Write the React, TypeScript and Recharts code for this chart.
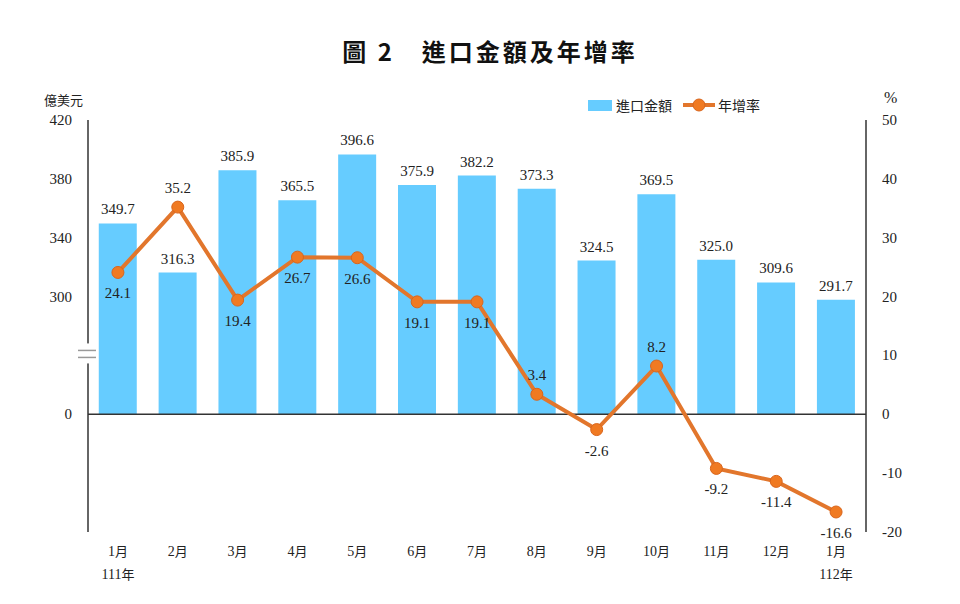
import { ComposedChart, Bar, Line, XAxis, YAxis, LabelList, ReferenceLine } from "recharts";

const months = ["1月", "2月", "3月", "4月", "5月", "6月", "7月", "8月", "9月", "10月", "11月", "12月", "1月"];
const yearLabels = ["111年", "", "", "", "", "", "", "", "", "", "", "", "112年"];
const importAmount = [349.7, 316.3, 385.9, 365.5, 396.6, 375.9, 382.2, 373.3, 324.5, 369.5, 325.0, 309.6, 291.7];
const growthRate = [24.1, 35.2, 19.4, 26.7, 26.6, 19.1, 19.1, 3.4, -2.6, 8.2, -9.2, -11.4, -16.6];
const rateLabelAbove = [false, true, false, false, false, false, false, true, false, true, false, false, false];

// left axis is broken: 300..420 maps onto 20..50 of the % axis, 0 maps onto 0
const leftTicks = [420, 380, 340, 300, 0];
const rightTicks = [50, 40, 30, 20, 10, 0, -10, -20];
const toRight = (v: number) => (v >= 300 ? 20 + (v - 300) / 4 : (v * 20) / 300);

const data = months.map((m, i) => ({
  month: m,
  year: yearLabels[i],
  amount: importAmount[i],
  bar: toRight(importAmount[i]),
  rate: growthRate[i],
}));

const serif = "'Liberation Serif', 'Times New Roman', serif";
const cjk = "'Noto Sans CJK TC', sans-serif";

const MonthTick = (props: any) => {
  const { x, y, payload } = props;
  const d = data[payload.index];
  return (
    <g>
      <text x={x} y={y + 16} textAnchor="middle" fontSize={14} fill="#222">
        <tspan fontFamily={serif}>{d.month.replace("月", "")}</tspan>
        <tspan fontFamily={cjk} fontSize={13}>月</tspan>
      </text>
      {d.year && (
        <text x={x} y={y + 39} textAnchor="middle" fontSize={14} fill="#222">
          <tspan fontFamily={serif}>{d.year.replace("年", "")}</tspan>
          <tspan fontFamily={cjk} fontSize={13}>年</tspan>
        </text>
      )}
    </g>
  );
};

const LeftTick = (props: any) => {
  const { x, y, payload } = props;
  if (payload.value === 10) {
    return (
      <g>
        <rect x={x + 12} y={y - 12} width={8} height={20} fill="#fff" />
        <line x1={x + 6} x2={x + 24} y1={y - 5} y2={y - 5} stroke="#999" strokeWidth={1.5} />
        <line x1={x + 6} x2={x + 24} y1={y + 2} y2={y + 2} stroke="#999" strokeWidth={1.5} />
      </g>
    );
  }
  const idx = [50, 40, 30, 20, 0].indexOf(payload.value);
  return (
    <text x={x} y={y + 5} textAnchor="end" fontFamily={serif} fontSize={15} fill="#222">
      {leftTicks[idx]}
    </text>
  );
};

const RightTick = (props: any) => {
  const { x, y, payload } = props;
  return (
    <text x={x} y={y + 5} textAnchor="start" fontFamily={serif} fontSize={15} fill="#222">
      {payload.value}
    </text>
  );
};

const RateLabel = (props: any) => {
  const { x, y, index, value } = props;
  const above = rateLabelAbove[index];
  return (
    <text x={x} y={above ? y - 14 : y + 26} textAnchor="middle" fontFamily={serif} fontSize={15} fill="#222">
      {Number(value).toFixed(1)}
    </text>
  );
};

export default function App() {
  return (
    <div style={{ position: "absolute", left: 0, top: 0, width: 960, height: 604, background: "#fff" }}>
      <div
        style={{
          position: "absolute",
          top: 33,
          left: 0,
          width: 980,
          textAlign: "center",
          fontFamily: cjk,
          fontWeight: 700,
          fontSize: 24,
          color: "#111",
          letterSpacing: 3,
        }}
      >
        圖 2　進口金額及年增率
      </div>
      <div style={{ position: "absolute", top: 90, left: 44, fontFamily: cjk, fontSize: 13, color: "#222" }}>億美元</div>
      <div style={{ position: "absolute", top: 89, left: 884, fontFamily: serif, fontSize: 16, color: "#222" }}>%</div>
      <div
        style={{
          position: "absolute",
          top: 95,
          left: 588,
          display: "flex",
          alignItems: "center",
          fontFamily: cjk,
          fontSize: 14,
          color: "#222",
        }}
      >
        <span style={{ width: 24, height: 11, background: "#66CCFF", display: "inline-block", marginRight: 4 }} />
        <span style={{ marginRight: 10 }}>進口金額</span>
        <svg width={34} height={14} style={{ marginRight: 2 }}>
          <line x1={1} x2={33} y1={7} y2={7} stroke="#E2762C" strokeWidth={4} />
          <circle cx={17} cy={7} r={6} fill="#F07A22" stroke="#D9651C" strokeWidth={1} />
        </svg>
        <span>年增率</span>
      </div>
      <ComposedChart
        width={960}
        height={604}
        data={data}
        margin={{ top: 120, right: 54, bottom: 12, left: 48 }}
        barCategoryGap="18%"
      >
        <XAxis
          dataKey="month"
          axisLine={false}
          tickLine={false}
          tick={<MonthTick />}
          height={60}
          interval={0}
        />
        <YAxis
          yAxisId="left"
          orientation="left"
          domain={[-20, 50]}
          ticks={[50, 40, 30, 20, 10, 0]}
          tick={<LeftTick />}
          tickLine={false}
          axisLine={{ stroke: "#333", strokeWidth: 1.5 }}
          width={40}
          tickMargin={10}
          interval={0}
          allowDataOverflow
        />
        <YAxis
          yAxisId="right"
          orientation="right"
          domain={[-20, 50]}
          ticks={rightTicks}
          tick={<RightTick />}
          tickLine={false}
          axisLine={{ stroke: "#333", strokeWidth: 1.5 }}
          width={40}
          tickMargin={10}
          interval={0}
          allowDataOverflow
        />
        <Bar dataKey="bar" yAxisId="left" fill="#66CCFF" isAnimationActive={false}>
          <LabelList
            dataKey="amount"
            position="top"
            offset={9}
            formatter={(v: any) => Number(v).toFixed(1)}
            style={{ fontFamily: serif, fontSize: 15, fill: "#222" }}
          />
        </Bar>
        <ReferenceLine y={0} yAxisId="right" stroke="#333" strokeWidth={1.5} />
        <Line
          dataKey="rate"
          yAxisId="right"
          stroke="#E2762C"
          strokeWidth={4}
          dot={{ r: 6, fill: "#F07A22", stroke: "#D9651C", strokeWidth: 1 }}
          activeDot={false}
          isAnimationActive={false}
        >
          <LabelList dataKey="rate" content={<RateLabel />} />
        </Line>
      </ComposedChart>
    </div>
  );
}
